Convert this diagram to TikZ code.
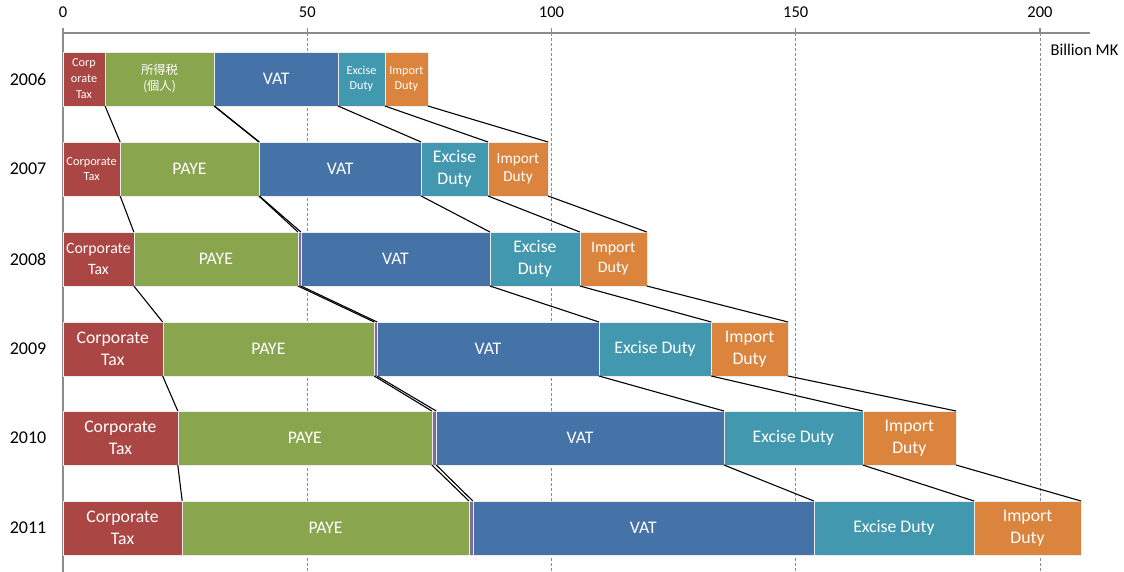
\documentclass[tikz,border=0pt]{standalone}
\usepackage{fontspec}
\setmainfont{Carlito}
\newfontfamily\cjk{Noto Sans CJK JP}
\usepackage{tikz}
\definecolor{corpred}{HTML}{AA4643}
\definecolor{payegreen}{HTML}{89A54E}
\definecolor{othviolet}{HTML}{80699B}
\definecolor{vatblue}{HTML}{4572A7}
\definecolor{excteal}{HTML}{4198AF}
\definecolor{imporange}{HTML}{DB843D}
\definecolor{axisgray}{HTML}{8C8C8C}

% one bar piece: name, from, to (Billion MK), top, style, text
\newcommand{\seg}[6]{\node[seg, #5, minimum width={(#3-#2)*4.885pt}] (#1) at ({63+#2*4.885},#4) {#6};}

\begin{document}
\begin{tikzpicture}[x=1pt, y=-1pt,
			fs/.style 2 args={font=\fontsize{#1}{#2}\selectfont},
			seg/.style={draw=white!85!gray, line width=0.3pt, anchor=north west, outer sep=0pt, inner sep=0pt,
				minimum height=54pt, text=white, align=center, fs={17.7}{21.7}},
			yr/.style={fs={18}{20}, text=black},
			tick/.style={fs={16.5}{18}, text=black},
			axis/.style={draw=axisgray, line width=1.4pt},
			grid/.style={draw=axisgray, line width=0.8pt, dash pattern=on 3pt off 2pt},
			link/.style={draw=black, line width=1.1pt}]
			\useasboundingbox (0,0) rectangle (1124,572);
			% Gitter und Achsen
			\foreach \v in {50,100,150,200} {
				\draw[grid] ({63+\v*4.885},33) -- ({63+\v*4.885},572);
				\draw[axis] ({63+\v*4.885},28) -- ({63+\v*4.885},33);
			}
			\draw[axis] (63,28) -- (63,572);
			\draw[axis] (63,33) -- (1090,33);
			\foreach \v in {0,50,...,200} \node[tick] (t\v) at ({63+\v*4.885},12) {\v};
			\node[tick, anchor=west] (unit) at (1047,50) {Billion MK};
			% Jahre
			\node[yr] (y06) at (28,79) {2006};
			\node[yr] (y07) at (28,169) {2007};
			\node[yr] (y08) at (28,259) {2008};
			\node[yr] (y09) at (28,349) {2009};
			\node[yr] (y10) at (28,438) {2010};
			\node[yr] (y11) at (28,528) {2011};
			% Balken 2006
			\seg{corp06}{0}{8.6}{52}{fill=corpred, fs={12.2}{16}}{Corp\\orate\\Tax}
			\seg{paye06}{8.6}{30.9}{52}{fill=payegreen, font=\cjk\fontsize{12.3}{16}\selectfont}{所得税\\(個人)}
			\seg{oth06}{30.9}{31.0}{52}{fill=othviolet}{}
			\seg{vat06}{31.0}{56.3}{52}{fill=vatblue}{VAT}
			\seg{exc06}{56.3}{65.9}{52}{fill=excteal, fs={12.2}{15.5}}{Excise\\Duty}
			\seg{imp06}{65.9}{74.7}{52}{fill=imporange, fs={12.2}{15.5}}{Import\\Duty}
			% Balken 2007
			\seg{corp07}{0}{11.7}{142}{fill=corpred, fs={12.3}{14.5}}{Corporate\\Tax}
			\seg{paye07}{11.7}{40.1}{142}{fill=payegreen}{PAYE}
			\seg{oth07}{40.1}{40.2}{142}{fill=othviolet}{}
			\seg{vat07}{40.2}{73.3}{142}{fill=vatblue}{VAT}
			\seg{exc07}{73.3}{87.0}{142}{fill=excteal}{Excise\\Duty}
			\seg{imp07}{87.0}{99.3}{142}{fill=imporange, fs={15.3}{18}}{Import\\Duty}
			% Balken 2008
			\seg{corp08}{0}{14.5}{232}{fill=corpred, fs={15.8}{21}}{Corporate\\Tax}
			\seg{paye08}{14.5}{48.1}{232}{fill=payegreen}{PAYE}
			\seg{oth08}{48.1}{48.7}{232}{fill=othviolet}{}
			\seg{vat08}{48.7}{87.4}{232}{fill=vatblue}{VAT}
			\seg{exc08}{87.4}{105.8}{232}{fill=excteal}{Excise\\Duty}
			\seg{imp08}{105.8}{119.5}{232}{fill=imporange, fs={16}{20}}{Import\\Duty}
			% Balken 2009
			\seg{corp09}{0}{20.4}{322}{fill=corpred}{Corporate\\Tax}
			\seg{paye09}{20.4}{63.7}{322}{fill=payegreen}{PAYE}
			\seg{oth09}{63.7}{64.3}{322}{fill=othviolet}{}
			\seg{vat09}{64.3}{109.7}{322}{fill=vatblue}{VAT}
			\seg{exc09}{109.7}{132.7}{322}{fill=excteal}{Excise Duty}
			\seg{imp09}{132.7}{148.4}{322}{fill=imporange}{Import\\Duty}
			% Balken 2010
			\seg{corp10}{0}{23.5}{411}{fill=corpred}{Corporate\\Tax}
			\seg{paye10}{23.5}{75.5}{411}{fill=payegreen}{PAYE}
			\seg{oth10}{75.5}{76.4}{411}{fill=othviolet}{}
			\seg{vat10}{76.4}{135.3}{411}{fill=vatblue}{VAT}
			\seg{exc10}{135.3}{163.7}{411}{fill=excteal}{Excise Duty}
			\seg{imp10}{163.7}{182.8}{411}{fill=imporange}{Import\\Duty}
			% Balken 2011
			\seg{corp11}{0}{24.4}{501}{fill=corpred}{Corporate\\Tax}
			\seg{paye11}{24.4}{83.1}{501}{fill=payegreen}{PAYE}
			\seg{oth11}{83.1}{83.9}{501}{fill=othviolet}{}
			\seg{vat11}{83.9}{153.7}{501}{fill=vatblue}{VAT}
			\seg{exc11}{153.7}{186.5}{501}{fill=excteal}{Excise Duty}
			\seg{imp11}{186.5}{208.4}{501}{fill=imporange}{Import\\Duty}
			% Verbindungslinien
			\foreach \a/\b in {06/07,07/08,08/09,09/10,10/11}
				\foreach \s in {corp,paye,oth,vat,exc,imp}
					\draw[link] (\s\a.south east) -- (\s\b.north east);
		\end{tikzpicture}
\end{document}
